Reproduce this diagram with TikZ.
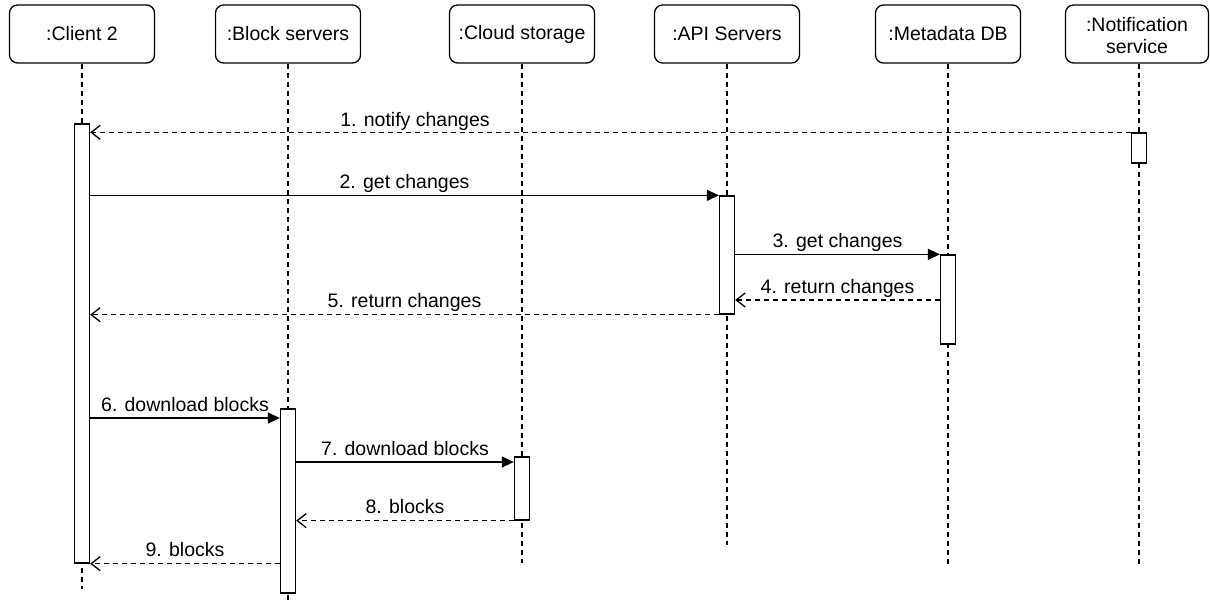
\documentclass[tikz,border=0pt]{standalone}
\usepackage{fontspec}
\setmainfont{Liberation Sans}
\usetikzlibrary{arrows.meta}
\begin{document}
\begin{tikzpicture}[x=1pt,y=-1pt,
  head/.style={draw, rounded corners=8pt, line width=1.3pt, minimum width=145pt,
    minimum height=58pt, align=center, inner sep=2pt,
    font=\fontsize{19.5}{22}\selectfont},
  htext/.style={align=center, inner sep=0pt, font=\fontsize{19.5}{22}\selectfont},
  life/.style={line width=1.3pt, dash pattern=on 5pt off 4pt},
  act/.style={draw, fill=white, line width=1.3pt, minimum width=15pt, inner sep=0pt},
  call/.style={line width=1.4pt, -{Triangle[length=12pt,width=11pt]}},
  reply/.style={line width=1.3pt, dash pattern=on 5pt off 4pt,
    -{Straight Barb[length=9pt,width=14pt,line width=1.3pt]}},
  lbl/.style={font=\fontsize{19.5}{24}\selectfont, anchor=base, inner sep=0pt, yshift=7pt}]
\useasboundingbox (0,0) rectangle (1210,602);

% headers
\node[head] (c2)  at (82,34)   {:Client 2};
\node[head] (bs)  at (288,34)  {:Block servers};
\node[head] (cs)  at (522,34)  {:Cloud storage};
\node[head] (api) at (727,34)  {:API Servers};
\node[head] (mdb) at (948,34)  {:Metadata DB};
\node[head, minimum width=143pt] (ns) at (1137,34) {};
\node[htext] (nst) at ([yshift=-2pt]ns.center) {:Notification\\service};

% lifeline ends
\coordinate (ec2)  at (82,589);
\coordinate (ebs)  at (288,600);
\coordinate (ecs)  at (522,563);
\coordinate (eapi) at (727,545);
\coordinate (emdb) at (948,565);
\coordinate (ens)  at (1139,565);

\draw[life] (c2.south) -- (ec2);
\draw[life] (bs.south) -- (ebs);
\draw[life] (cs.south) -- (ecs);
\draw[life] (api.south) -- (eapi);
\draw[life] (mdb.south) -- (emdb);
\draw[life] (ns.south -| ens) -- (ens);

% activations
\node[act, minimum height=439pt] (ac2)  at (82,343.5)  {};
\node[act, minimum height=30pt]  (ans)  at (1139,148)  {};
\node[act, minimum height=118pt] (aapi) at (727,255)   {};
\node[act, minimum height=89pt]  (amdb) at (948,299.5) {};
\node[act, minimum height=184pt] (abs)  at (288,501)   {};
\node[act, minimum height=63pt]  (acs)  at (522,488.5) {};

% message levels
\coordinate (y4) at (0,300);
\coordinate (y6) at (0,418);
\coordinate (y7) at (0,462);
\coordinate (l1) at (415,133);

% messages
\draw[reply] (ans.north west) -- (ac2.east |- ans.north west);
\node[lbl] (t1) at (l1) {1. notify changes};

\draw[call] (ac2.east |- aapi.north) -- node[lbl] (t2) {2. get changes} (aapi.north west);
\draw[call] (aapi.east |- amdb.north) -- node[lbl] (t3) {3. get changes} (amdb.north west);
\draw[reply] (amdb.west |- y4) -- node[lbl] (t4) {4. return changes} (aapi.east |- y4);
\draw[reply] (aapi.south west) -- node[lbl] (t5) {5. return changes} (ac2.east |- aapi.south west);
\draw[call] (ac2.east |- y6) -- node[lbl] (t6) {6. download blocks} (abs.west |- y6);
\draw[call] (abs.east |- y7) -- node[lbl] (t7) {7. download blocks} (acs.west |- y7);
\draw[reply] (acs.south west) -- node[lbl] (t8) {8. blocks} (abs.east |- acs.south west);
\draw[reply] (abs.west |- ac2.south) -- node[lbl] (t9) {9. blocks} (ac2.south east);
\end{tikzpicture}
\end{document}
